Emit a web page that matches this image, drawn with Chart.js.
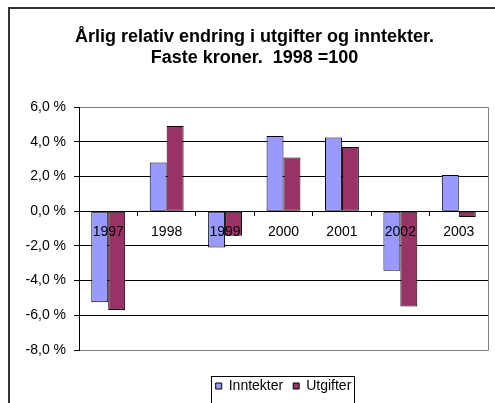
<!DOCTYPE html>
<html><head><meta charset="utf-8">
<script src="https://cdn.jsdelivr.net/npm/chart.js@4/dist/chart.umd.min.js"></script>
<style>html,body{margin:0;padding:0;background:#fff;overflow:hidden}#wrap{width:495px;height:403px;position:relative}</style>
</head><body><div id="wrap"><canvas id="c"></canvas></div>
<script>
const titleLines = ['Årlig relativ endring i utgifter og inntekter.', 'Faste kroner.  1998 =100'];
const years = ['1997', '1998', '1999', '2000', '2001', '2002', '2003'];
const inntekter = [-5.25, 2.8, -2.1, 4.33, 4.25, -3.43, 2.08];
const utgifter = [-5.7, 4.9, -1.42, 3.09, 3.7, -5.5, -0.34];
const yMin = -8, yMax = 6, yStep = 2;

const FONT = '"Liberation Sans", Arial, sans-serif';

const framePlugin = {
  id: 'framePlugin',
  afterDraw(chart) {
    const ctx = chart.ctx, a = chart.chartArea;
    ctx.save();
    ctx.strokeStyle = '#808080'; ctx.lineWidth = 1;
    ctx.beginPath();
    ctx.moveTo(a.left + 1, a.top + 0.5);
    ctx.lineTo(a.right + 0.5, a.top + 0.5);
    ctx.lineTo(a.right + 0.5, a.bottom + 0.5);
    ctx.lineTo(a.left + 1, a.bottom + 0.5);
    ctx.stroke();
    ctx.strokeStyle = '#333'; ctx.lineWidth = 2;
    ctx.strokeRect(9, 8, 600, 600);
    const hb = chart.legend && chart.legend.legendHitBoxes;
    if (hb && hb.length) {
      const last = hb[hb.length - 1];
      const l = Math.round(hb[0].left - 5), r = Math.round(last.left + last.width + 3), t = Math.round(hb[0].top - 3);
      ctx.strokeStyle = '#000'; ctx.lineWidth = 1;
      ctx.strokeRect(l + 0.5, t + 0.5, r - l, 100);
    }
    ctx.restore();
  }
};

new Chart(document.getElementById('c'), {
  type: 'bar',
  data: {
    labels: years,
    datasets: [
      { label: 'Inntekter', data: inntekter, backgroundColor: '#9999FF', borderColor: '#000', borderWidth: 1, borderSkipped: false },
      { label: 'Utgifter', data: utgifter, backgroundColor: '#993366', borderColor: '#000', borderWidth: 1, borderSkipped: false }
    ]
  },
  options: {
    responsive: true, maintainAspectRatio: false, animation: false,
    layout: { padding: { left: 14, right: 0, top: 0, bottom: 0 } },
    datasets: { bar: { categoryPercentage: 0.58, barPercentage: 1 } },
    scales: {
      x: {
        type: 'category',
        position: { y: 0 },
        offset: true,
        grid: { drawOnChartArea: false, drawTicks: true, tickLength: 4, tickColor: '#000', offset: true },
        border: { display: true, color: '#000', width: 1 },
        ticks: { z: 1, color: '#000', font: { family: FONT, size: 14 }, padding: 9, maxRotation: 0, autoSkip: false }
      },
      x2: {
        type: 'category', labels: years, position: 'bottom', display: true,
        grid: { display: false }, border: { display: false }, ticks: { display: false },
        afterFit(s) { s.height = 19; }
      },
      y: {
        min: yMin, max: yMax,
        position: 'left',
        afterFit(s) { s.width = 65; },
        grid: {
          color: (c) => (c.tick && (c.tick.value === yMax || c.tick.value === yMin)) ? 'rgba(0,0,0,0)' : '#000',
          tickColor: '#000', tickLength: 5, lineWidth: 1
        },
        border: { display: true, color: '#000', width: 1 },
        ticks: {
          stepSize: yStep, color: '#000', padding: 8,
          font: { family: FONT, size: 14 },
          callback: (v) => v.toFixed(1).replace('.', ',') + ' %'
        }
      },
      y2: {
        position: 'right', display: true,
        grid: { display: false }, border: { display: false }, ticks: { display: false },
        afterFit(s) { s.width = 7; }
      }
    },
    plugins: {
      title: {
        display: true, text: titleLines, color: '#000',
        font: { family: FONT, size: 18, weight: 'bold', lineHeight: '21.5px' },
        padding: { top: 26, bottom: 38 }
      },
      legend: {
        display: true, position: 'bottom', fullSize: false,
        labels: { boxWidth: 6, boxHeight: 6, color: '#000', padding: 10, font: { family: FONT, size: 14 } }
      },
      tooltip: { enabled: false }
    }
  },
  plugins: [framePlugin]
});
</script>
</body></html>
